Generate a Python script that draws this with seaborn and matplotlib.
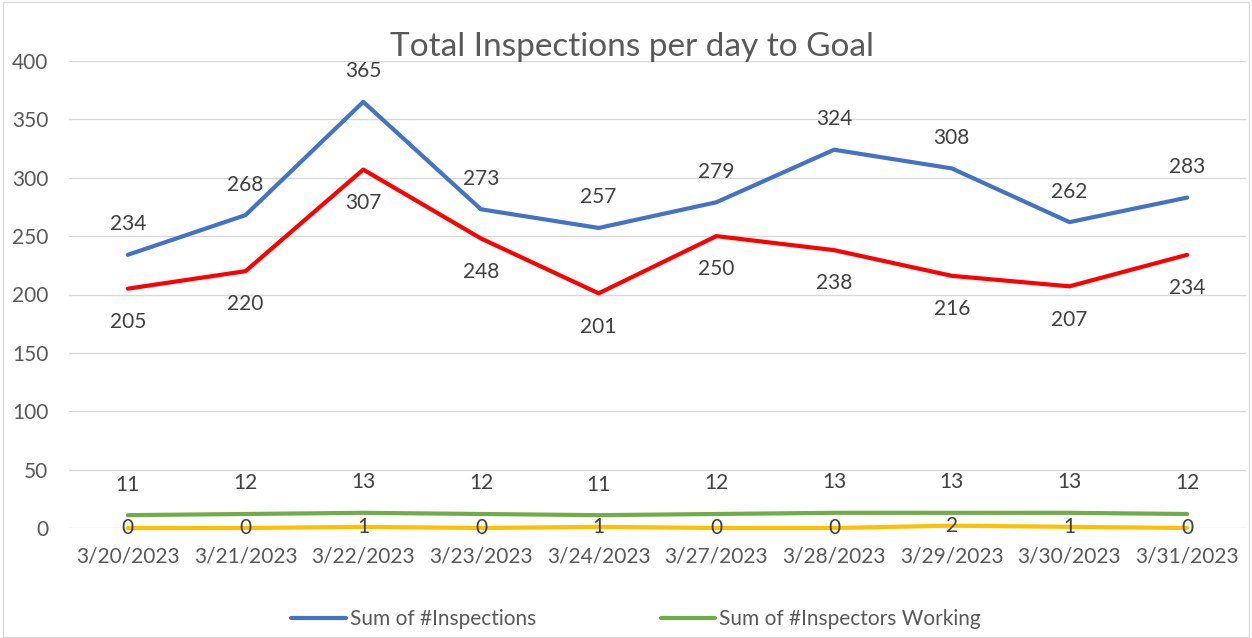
import matplotlib
matplotlib.use("Agg")
import matplotlib.pyplot as plt
import seaborn as sns
import pandas as pd
from matplotlib.patches import Rectangle

dates = ['3/20/2023', '3/21/2023', '3/22/2023', '3/23/2023', '3/24/2023',
         '3/27/2023', '3/28/2023', '3/29/2023', '3/30/2023', '3/31/2023']
inspections = [234, 268, 365, 273, 257, 279, 324, 308, 262, 283]
goal = [205, 220, 307, 248, 201, 250, 238, 216, 207, 234]
inspectors = [11, 12, 13, 12, 11, 12, 13, 13, 13, 12]
other = [0, 0, 1, 0, 1, 0, 0, 2, 1, 0]

sns.set_theme(style="white")
plt.rcParams['font.family'] = ['Lato', 'DejaVu Sans']
txt = '#595959'

df = pd.DataFrame({'date': dates, 'insp': inspections, 'goal': goal,
                   'workers': inspectors, 'other': other})

fig = plt.figure(figsize=(12.52, 6.38), dpi=100)
ax = fig.add_axes([69 / 1252, 110 / 638, 1177 / 1252, 467 / 638])

series = [('insp', '#4472C4', 'Sum of #Inspections', 22),
          ('goal', '#FF0000', '_nolegend_', -24),
          ('workers', '#70AD47', 'Sum of #Inspectors Working', 22),
          ('other', '#FFC000', '_nolegend_', 0)]

for col, color, label, off in series:
    sns.lineplot(data=df, x='date', y=col, color=color, linewidth=3,
                 label=label, ax=ax, sort=False, clip_on=False,
                 solid_capstyle='round')
    for i, v in enumerate(df[col]):
        ax.annotate(str(v), (i, v), xytext=(0, off), textcoords='offset points',
                    ha='center', va='center', fontsize=15, color='#404040')

ax.set_xlim(-0.5, len(dates) - 0.5)
ax.set_ylim(0, 400)
ax.set_yticks(range(0, 401, 50))
ax.grid(axis='y', color='#D9D9D9', linewidth=1)
ax.grid(axis='x', visible=False)
for s in ax.spines.values():
    s.set_visible(False)
ax.tick_params(axis='both', length=0, labelsize=15, labelcolor=txt)
ax.tick_params(axis='y', pad=15)
ax.tick_params(axis='x', pad=13)
ax.set_xlabel('')
ax.set_ylabel('')

fig.text(0.505, 0.926, 'Total Inspections per day to Goal', ha='center', va='center',
         fontsize=24, color=txt)

ax.legend(loc='center', bbox_to_anchor=(0.482, -0.195), ncol=2, frameon=False,
          fontsize=15, labelcolor=txt, handlelength=2.6, handletextpad=0.2,
          columnspacing=6.0)

fig.patches.append(Rectangle((0.002, 0.002), 0.996, 0.995, transform=fig.transFigure,
                             fill=False, edgecolor='#D9D9D9', linewidth=1))

fig.savefig('out.png', dpi=100)
